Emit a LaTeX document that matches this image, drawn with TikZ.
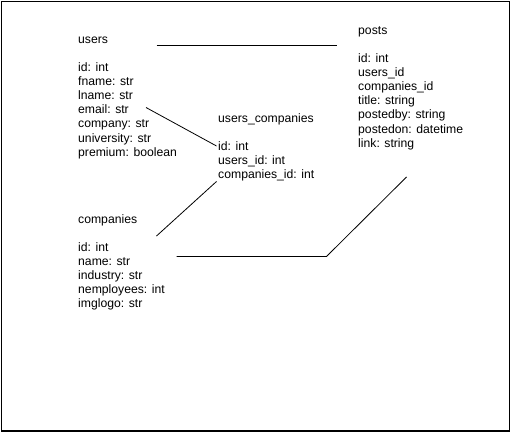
\documentclass[tikz,border=0pt]{standalone}
\usepackage{fontspec}
\setmainfont{Liberation Sans}
\tikzset{
  tbl/.style={anchor=base west, inner sep=0pt, font=\fontsize{12.2}{14.1}\selectfont},
  conn/.style={line width=0.8pt, black},
  frame/.style={line width=1.5pt, black}
}
\newcommand{\tblrows}[1]{\begin{tabular}[t]{@{}l@{}}#1\end{tabular}}
\begin{document}
\begin{tikzpicture}[x=1pt,y=-1pt]
\useasboundingbox (0,0) rectangle (513,436);
\draw[frame] (1.5,1.5) rectangle (509.5,431);
% tables
\node[tbl] (usersT) at (78,43.5) {users};
\node[tbl] (users) at (78,71.5) {\tblrows{id: int\\fname: str\\lname: str\\email: str\\company: str\\university: str\\premium: boolean}};
\node[tbl] (ucT) at (218,122) {users\_companies};
\node[tbl] (uc) at (218,150) {\tblrows{id: int\\users\_id: int\\companies\_id: int}};
\node[tbl] (compT) at (78,223) {companies};
\node[tbl] (comp) at (78,251) {\tblrows{id: int\\name: str\\industry: str\\nemployees: int\\imglogo: str}};
\node[tbl] (postsT) at (358,34.5) {posts};
\node[tbl] (posts) at (358,62.5) {\tblrows{id: int\\users\_id\\companies\_id\\title: string\\postedby: string\\postedon: datetime\\link: string}};
% connector end points
\coordinate (uA) at (156.5,45.8);
\coordinate (pA) at (336.5,45.8);
\coordinate (uB) at (146,107.5);
\coordinate (ucB) at (216.5,146);
\coordinate (ucC) at (216.5,181.5);
\coordinate (cC) at (156.5,236);
\coordinate (cD) at (176.5,256.5);
\coordinate (bend) at (326.5,256.5);
\coordinate (pD) at (406.5,177);
% connectors
\draw[conn] (uA) -- (pA);
\draw[conn] (uB) -- (ucB);
\draw[conn] (ucC) -- (cC);
\draw[conn] (cD) -- (bend) -- (pD);
\end{tikzpicture}
\end{document}
